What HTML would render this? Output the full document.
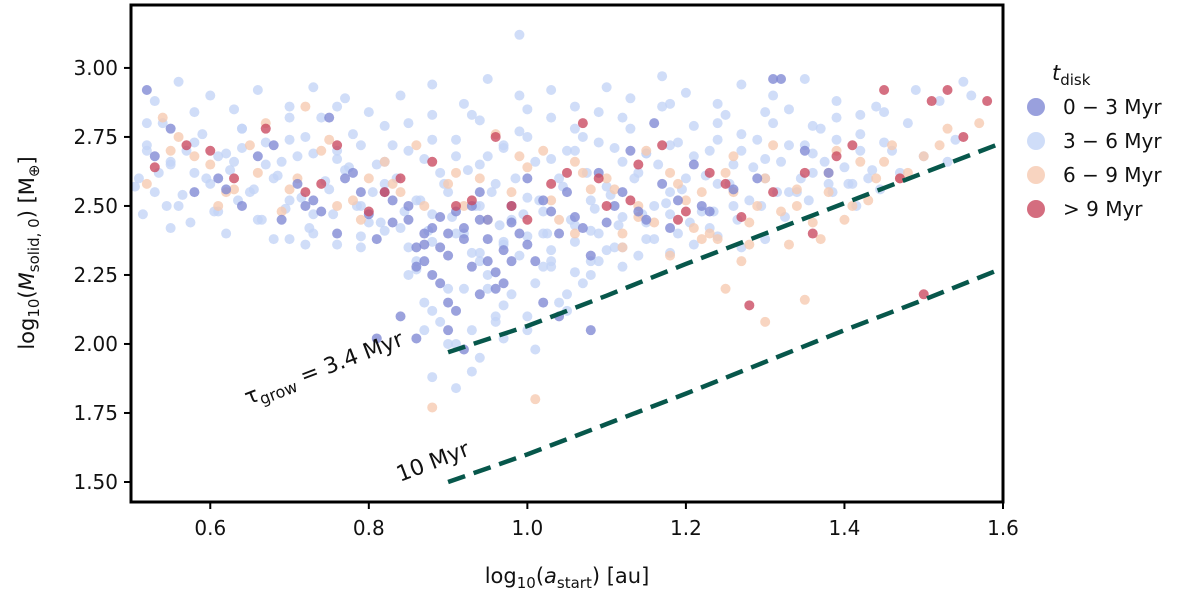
<!DOCTYPE html>
<html><head><meta charset="utf-8"><style>
body{margin:0;background:#fff;}
svg text{font-family:"DejaVu Sans","Liberation Sans",sans-serif;fill:#111;}
</style></head><body>
<svg id="chart" width="1200" height="596" viewBox="0 0 1200 596" xmlns="http://www.w3.org/2000/svg">
<g id="pts"></g>
<g id="lines"></g>
<rect x="131" y="5" width="872" height="497" fill="none" stroke="#000" stroke-width="3"/>
<g id="axes"></g>
<text x="567" y="583" font-size="21" text-anchor="middle">log<tspan font-size="15" dy="5">10</tspan><tspan dy="-5">(</tspan><tspan font-style="italic">a</tspan><tspan font-size="15" dy="5">start</tspan><tspan dy="-5">) [au]</tspan></text>
<text transform="translate(34,253) rotate(-90)" font-size="21" text-anchor="middle">log<tspan font-size="15" dy="5">10</tspan><tspan dy="-5">(</tspan><tspan font-style="italic">M</tspan><tspan font-size="15" dy="5">solid, 0</tspan><tspan dy="-5">) [M</tspan><tspan font-size="15" dy="5">⊕</tspan><tspan dy="-5">]</tspan></text>
<text transform="translate(248,405) rotate(-21)" font-size="22">τ<tspan font-size="16" dy="5">grow</tspan><tspan dy="-5"> = 3.4 Myr</tspan></text>
<text transform="translate(400,482) rotate(-21)" font-size="22">10 Myr</text>
<g id="legend">
<text x="1052" y="80" font-size="21"><tspan font-style="italic">t</tspan><tspan font-size="15" dy="5">disk</tspan></text>
</g>
</svg>
<script>
const X0=0.5,X1=1.6,Y0=1.4275,Y1=3.228,L=131,R=1003,T=5,B=502;
const sx=v=>L+(v-X0)/(X1-X0)*(R-L);
const sy=v=>B-(v-Y0)/(Y1-Y0)*(B-T);
const xTicks=[0.6,0.8,1.0,1.2,1.4,1.6];
const yTicks=[1.50,1.75,2.00,2.25,2.50,2.75,3.00];
const seriesNames=["0 − 3 Myr","3 − 6 Myr","6 − 9 Myr","> 9 Myr"];
const seriesColors=["#7f88d4","#c3d4f6","#f6c9b0","#c9485f"];
const lightX=[0.51,0.53,0.55,0.56,0.58,0.6,0.61,0.63,0.65,0.66,0.68,0.7,0.71,0.73,0.75,0.77,0.79,0.8,0.82,0.84,0.86,0.88,0.9,0.92,0.94,0.96,0.98,1.0,1.02,1.04,1.06,1.08,1.1,1.12,1.14,1.16,1.18,1.2,1.22,1.24,1.26,1.28,1.3,1.32,1.34,1.36,1.38,1.4,1.43,1.46,1.5,1.54,
0.52,0.54,0.57,0.59,0.62,0.64,0.67,0.69,0.72,0.74,0.76,0.78,0.81,0.83,0.85,0.87,0.89,0.91,0.93,0.95,0.97,0.99,1.01,1.03,1.05,1.07,1.09,1.11,1.13,1.15,1.17,1.19,1.21,1.23,1.25,1.27,1.29,1.31,1.33,1.35,1.37,1.39,1.42,1.45,1.48,1.52,1.56,
0.53,0.56,0.6,0.63,0.66,0.7,0.73,0.77,0.8,0.84,0.88,0.92,0.95,0.99,1.03,1.06,1.1,1.13,1.17,1.2,1.24,1.27,1.31,1.35,1.39,1.44,1.49,1.55,
0.55,0.62,0.68,0.72,0.79,0.86,0.93,0.97,1.02,1.08,1.15,1.18,1.26,1.33,1.41,1.47,1.53,
0.85,0.87,0.89,0.9,0.92,0.94,0.96,0.98,1.0,1.02,1.05,1.07,1.09,1.11,1.14,0.88,0.93,0.97,1.01,1.04,1.08,1.12,1.16,1.19,1.23,0.91,0.95,1.0,1.03,0.87,0.94,0.99,
0.505,0.535,0.565,0.595,0.625,0.655,0.685,0.715,0.745,0.775,0.805,0.835,0.865,0.895,0.925,0.955,0.985,1.015,1.045,1.075,1.105,1.135,1.165,1.195,1.225,1.255,1.285,1.315,1.345,1.375,1.405,1.435,
0.515,0.545,0.575,0.605,0.635,0.665,0.695,0.725,0.755,0.785,0.815,0.845,0.875,0.905,0.935,0.965,0.995,1.025,1.055,1.085,1.115,1.145,1.175,1.205,1.235,1.265,1.295,1.325,1.355,1.385,1.415,1.445,
0.52,0.55,0.58,0.61,0.64,0.67,0.7,0.73,0.76,0.79,0.82,0.85,0.88,0.91,0.94,0.97,1.0,1.03,1.06,1.09,1.12,1.15,1.18,1.21,1.24,1.27,1.3,1.33,1.36,1.39,1.42,1.45,
0.7,0.73,0.76,0.79,0.82,0.85,0.88,0.91,0.94,0.97,1.0,1.03,1.06,1.09,1.12,1.15,1.18,1.21,1.24,1.27,1.3,
0.52,0.58,0.64,0.7,0.76,0.82,0.88,0.94,1.0,1.06,1.12,1.18,1.24,1.3,1.36,1.42,
0.86,0.88,0.9,0.93,0.95,0.97,0.99,1.01,1.03,1.05,1.08,1.1,0.91,0.96,1.06];
const lightY=[2.6,2.55,2.65,2.5,2.62,2.58,2.48,2.66,2.55,2.45,2.6,2.52,2.68,2.47,2.56,2.63,2.5,2.44,2.58,2.42,2.52,2.47,2.55,2.4,2.5,2.58,2.45,2.53,2.48,2.6,2.43,2.52,2.57,2.46,2.62,2.5,2.55,2.6,2.48,2.58,2.65,2.52,2.6,2.66,2.55,2.62,2.58,2.64,2.6,2.7,2.68,2.74,
2.72,2.8,2.7,2.76,2.69,2.78,2.73,2.66,2.75,2.82,2.7,2.76,2.65,2.72,2.8,2.67,2.62,2.74,2.83,2.68,2.72,2.77,2.66,2.82,2.7,2.75,2.84,2.71,2.78,2.69,2.86,2.73,2.79,2.7,2.83,2.76,2.74,2.8,2.85,2.72,2.78,2.82,2.76,2.84,2.8,2.88,2.9,
2.88,2.95,2.9,2.85,2.92,2.86,2.93,2.89,2.84,2.9,2.94,2.87,2.96,2.9,2.92,2.86,2.93,2.89,2.97,2.91,2.87,2.94,2.9,2.96,2.88,2.86,2.92,2.95,
2.42,2.4,2.38,2.36,2.35,2.3,2.33,2.37,2.4,2.41,2.44,2.47,2.5,2.55,2.58,2.62,2.66,
2.25,2.15,2.08,2.0,2.2,1.95,2.1,2.18,2.05,2.28,2.12,2.22,2.3,2.35,2.32,1.88,1.9,2.02,1.98,2.15,2.25,2.28,2.38,2.4,2.42,1.84,2.2,2.1,2.3,2.05,2.3,3.12,
2.57,2.62,2.54,2.6,2.63,2.56,2.61,2.53,2.59,2.64,2.55,2.6,2.52,2.58,2.63,2.55,2.6,2.52,2.57,2.62,2.54,2.6,2.65,2.56,2.61,2.58,2.64,2.55,2.6,2.66,2.58,2.63,
2.47,2.5,2.44,2.48,2.52,2.45,2.49,2.42,2.47,2.5,2.44,2.48,2.41,2.46,2.5,2.43,2.47,2.4,2.45,2.49,2.43,2.47,2.51,2.44,2.48,2.45,2.5,2.46,2.52,2.55,2.5,2.56,
2.7,2.66,2.73,2.68,2.71,2.65,2.74,2.69,2.67,2.72,2.66,2.7,2.74,2.68,2.65,2.71,2.75,2.67,2.7,2.73,2.66,2.69,2.72,2.68,2.74,2.7,2.67,2.72,2.69,2.74,2.7,2.73,
2.38,2.4,2.36,2.39,2.41,2.35,2.37,2.4,2.33,2.36,2.39,2.34,2.37,2.4,2.35,2.38,2.33,2.36,2.39,2.35,2.38,
2.8,2.84,2.78,2.82,2.86,2.79,2.83,2.81,2.85,2.78,2.82,2.87,2.8,2.84,2.79,2.83,
2.27,2.12,2.2,2.05,2.25,2.14,2.32,2.22,2.28,2.18,2.3,2.34,2.0,2.08,2.26];
const darkX=[0.52,0.55,0.58,0.61,0.64,0.66,0.69,0.71,0.73,0.76,0.78,0.8,0.82,0.83,0.85,0.86,0.87,0.88,0.89,0.9,0.91,0.92,0.93,0.94,0.95,0.96,0.97,0.98,0.99,1.0,1.01,1.03,1.05,1.07,1.09,1.11,1.13,1.15,1.17,1.19,1.21,1.23,1.26,1.29,1.32,1.35,1.38,0.84,0.86,0.88,0.9,0.92,0.94,0.87,0.89,0.91,0.95,0.97,1.02,0.81,0.75,0.68,1.04,1.08,1.16,1.31,0.53,
0.62,0.72,0.77,0.81,0.83,0.85,0.87,0.89,0.9,0.92,0.93,0.95,0.96,0.98,1.0,1.02,1.04,1.06,1.08,1.1,1.12,1.14,1.18,1.22,0.86,0.9,0.94,0.98,0.79,0.74];
const darkY=[2.92,2.78,2.55,2.6,2.5,2.68,2.45,2.58,2.52,2.4,2.62,2.47,2.55,2.44,2.5,2.35,2.3,2.42,2.22,2.15,2.48,2.38,2.28,2.55,2.45,2.2,2.34,2.5,2.4,2.6,2.3,2.48,2.55,2.42,2.62,2.5,2.7,2.45,2.58,2.52,2.65,2.48,2.56,2.6,2.96,2.7,2.62,2.1,2.02,2.25,2.05,1.98,2.18,2.4,2.35,2.12,2.3,2.22,2.15,2.02,2.82,2.72,2.1,2.05,2.8,2.96,2.68,
2.56,2.5,2.6,2.38,2.52,2.45,2.36,2.46,2.32,2.42,2.5,2.38,2.26,2.44,2.36,2.52,2.4,2.46,2.32,2.44,2.55,2.48,2.42,2.5,2.28,2.4,2.45,2.3,2.55,2.48];
const peachX=[0.52,0.56,0.6,0.63,0.67,0.71,0.74,0.78,0.82,0.86,0.9,0.94,0.98,1.02,1.06,1.1,1.14,1.18,1.22,1.26,1.3,1.34,1.38,1.42,1.46,1.5,0.54,0.58,0.65,0.69,0.72,0.8,0.84,0.92,0.96,1.0,1.04,1.08,1.12,1.16,1.2,1.24,1.28,1.32,1.36,1.4,1.44,1.48,1.53,1.57,1.12,1.18,1.23,1.27,1.33,1.37,1.43,0.88,1.01,1.25,1.35,1.26,0.62,0.76,1.06,1.3,
0.55,0.61,0.66,0.7,0.75,0.79,0.83,0.87,0.91,0.95,0.99,1.03,1.07,1.11,1.15,1.19,1.21,1.25,1.29,1.31,1.34,1.39,1.41,1.45,1.47,1.52,1.14,1.22,1.28,1.38];
const peachY=[2.58,2.75,2.65,2.56,2.8,2.6,2.7,2.52,2.66,2.72,2.58,2.6,2.55,2.7,2.66,2.6,2.5,2.62,2.55,2.68,2.6,2.5,2.62,2.66,2.72,2.68,2.82,2.68,2.72,2.48,2.86,2.6,2.55,2.5,2.76,2.64,2.45,2.56,2.4,2.44,2.52,2.38,2.36,2.48,2.44,2.45,2.6,2.62,2.78,2.8,2.35,2.32,2.4,2.3,2.36,2.38,2.52,1.77,1.8,2.2,2.16,2.55,2.55,2.5,2.4,2.08,
2.7,2.5,2.62,2.56,2.74,2.45,2.58,2.5,2.62,2.45,2.68,2.52,2.62,2.56,2.7,2.58,2.42,2.62,2.5,2.72,2.56,2.7,2.5,2.66,2.6,2.72,2.46,2.38,2.44,2.55];
const redX=[0.53,0.57,0.63,0.67,0.72,0.76,0.8,0.84,0.88,0.93,0.96,1.0,1.03,1.07,1.1,1.14,1.17,1.2,1.23,1.27,1.31,1.35,1.41,1.45,1.51,1.53,1.55,1.58,0.74,0.91,1.09,1.19,1.36,1.5,1.28,
0.6,0.82,0.98,1.05,1.13,1.25,1.39,1.47];
const redY=[2.64,2.72,2.6,2.78,2.55,2.72,2.48,2.6,2.66,2.52,2.75,2.45,2.58,2.8,2.5,2.65,2.72,2.48,2.62,2.46,2.55,2.62,2.72,2.92,2.88,2.92,2.75,2.88,2.58,2.5,2.6,2.45,2.4,2.18,2.14,
2.7,2.55,2.5,2.62,2.52,2.58,2.68,2.6];
const upperX=[0.9,1.0,1.1,1.2,1.3,1.4,1.5,1.6];
const upperY=[1.97,2.065,2.175,2.29,2.40,2.51,2.62,2.73];
const lowerX=[0.9,1.0,1.1,1.2,1.3,1.4,1.5,1.6];
const lowerY=[1.50,1.60,1.71,1.82,1.935,2.05,2.16,2.275];
const NS="http://www.w3.org/2000/svg";
const pts=document.getElementById('pts');
function drawSeries(xs,ys,color,name){
  for(let i=0;i<xs.length;i++){
    const c=document.createElementNS(NS,'circle');
    c.setAttribute('cx',sx(xs[i]));c.setAttribute('cy',sy(ys[i]));c.setAttribute('r',5);
    c.setAttribute('fill',color);c.setAttribute('fill-opacity',0.78);
    
    
    pts.appendChild(c);
  }
}
drawSeries(lightX,lightY,seriesColors[1],'point-3-6-myr');
drawSeries(peachX,peachY,seriesColors[2],'point-6-9-myr');
drawSeries(darkX,darkY,seriesColors[0],'point-0-3-myr');
drawSeries(redX,redY,seriesColors[3],'point-gt-9-myr');
const lines=document.getElementById('lines');
function drawLine(xs,ys,name){
  const p=document.createElementNS(NS,'polyline');
  p.setAttribute('points',xs.map((x,i)=>sx(x)+','+sy(ys[i])).join(' '));
  p.setAttribute('fill','none');p.setAttribute('stroke','#07574b');p.setAttribute('stroke-width',4.5);
  p.setAttribute('stroke-dasharray','18 9');
  
  
  lines.appendChild(p);
}
drawLine(upperX,upperY,'tau-3.4-myr-line');
drawLine(lowerX,lowerY,'tau-10-myr-line');
const axes=document.getElementById('axes');
xTicks.forEach(v=>{
  const l=document.createElementNS(NS,'line');
  l.setAttribute('x1',sx(v));l.setAttribute('x2',sx(v));l.setAttribute('y1',B);l.setAttribute('y2',B+7);l.setAttribute('stroke','#000');l.setAttribute('stroke-width',2);
  
  
  axes.appendChild(l);
  const t=document.createElementNS(NS,'text');
  t.setAttribute('x',sx(v));t.setAttribute('y',B+33);t.setAttribute('font-size',20);t.setAttribute('text-anchor','middle');
  t.textContent=v.toFixed(1);
  
  
  axes.appendChild(t);
});
yTicks.forEach(v=>{
  const l=document.createElementNS(NS,'line');
  l.setAttribute('x1',L-7);l.setAttribute('x2',L);l.setAttribute('y1',sy(v));l.setAttribute('y2',sy(v));l.setAttribute('stroke','#000');l.setAttribute('stroke-width',2);
  
  
  axes.appendChild(l);
  const t=document.createElementNS(NS,'text');
  t.setAttribute('x',L-13);t.setAttribute('y',sy(v)+7);t.setAttribute('font-size',20);t.setAttribute('text-anchor','end');
  t.textContent=v.toFixed(2);
  
  
  axes.appendChild(t);
});
const lg=document.getElementById('legend');
seriesNames.forEach((n,i)=>{
  const y=107+i*34;
  const c=document.createElementNS(NS,'circle');
  c.setAttribute('cx',1036);c.setAttribute('cy',y);c.setAttribute('r',9);c.setAttribute('fill',seriesColors[i]);c.setAttribute('fill-opacity',0.8);
  
  
  lg.appendChild(c);
  const t=document.createElementNS(NS,'text');
  t.setAttribute('x',1063);t.setAttribute('y',y+7);t.setAttribute('font-size',20);
  t.textContent=n;
  
  
  lg.appendChild(t);
});
</script>
</body></html>
